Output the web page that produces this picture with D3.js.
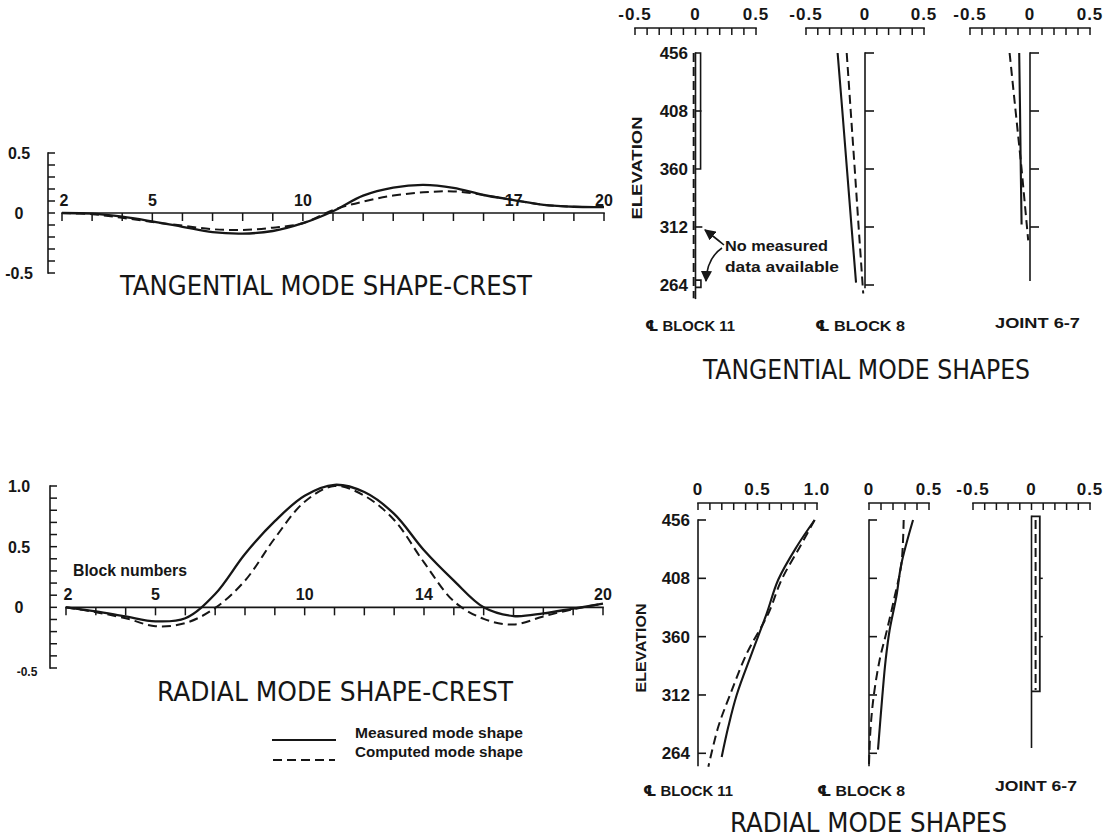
<!DOCTYPE html>
<html><head><meta charset="utf-8">
<script src="https://cdn.jsdelivr.net/npm/d3@7/dist/d3.min.js"></script>
<style>
html,body{margin:0;padding:0;background:#fff;}
.num{font-family:'Liberation Sans',Arial,'DejaVu Sans',sans-serif;font-weight:bold;fill:#161616;}
.ttl{font-family:'Liberation Sans Narrow','DejaVu Sans Condensed','Liberation Sans',sans-serif;fill:#161616;}
</style></head><body>
<svg id="chart" width="1105" height="840"></svg>
<script>
// ---------------- DATA ----------------
const blocks = [2,3,4,5,6,7,8,9,10,11,12,13,14,15,16,17,18,19,20];
// Tangential mode shape - crest
const tanMeasured = [0.0,-0.005,-0.03,-0.07,-0.115,-0.16,-0.172,-0.15,-0.085,0.015,0.145,0.212,0.235,0.21,0.15,0.108,0.068,0.052,0.05];
const tanComputed = [0.0,-0.01,-0.04,-0.075,-0.105,-0.135,-0.142,-0.122,-0.085,0.025,0.095,0.145,0.172,0.18,0.15,0.108,0.068,0.052,0.05];
// Radial mode shape - crest
const radMeasured = [0.0,-0.033,-0.075,-0.115,-0.09,0.11,0.44,0.71,0.92,1.01,0.95,0.77,0.47,0.22,0.0,-0.072,-0.05,-0.01,0.03];
const radComputed = [0.0,-0.04,-0.09,-0.155,-0.13,-0.005,0.22,0.57,0.87,1.0,0.92,0.72,0.37,0.05,-0.095,-0.142,-0.075,-0.015,0.03];
const tanCrestXLabels = [2,5,10,17,20];
const radCrestXLabels = [2,5,10,14,20];
const tanCrestYLabels = [{v:0.5,t:'0.5'},{v:0,t:'0'},{v:-0.5,t:'-0.5'}];
const radCrestYLabels = [{v:1.0,t:'1.0'},{v:0.5,t:'0.5'},{v:0,t:'0'}];

// Elevation profiles
const elevTicks = [456,408,360,312,264];
// tangential
const tB11MeasElev = [456,456,360,360];
const tB11MeasVal  = [0,0.042,0.042,0];
const tB11CompElev = [456,253];
const tB11CompVal  = [-0.015,-0.015];
const tB8MeasElev = [456,408,360,312,266];
const tB8MeasVal  = [-0.232,-0.192,-0.153,-0.114,-0.076];
const tB8CompElev = [456,408,360,312,257];
const tB8CompVal  = [-0.155,-0.121,-0.087,-0.054,-0.015];
const tJMeasElev = [456,408,360,314];
const tJMeasVal  = [-0.09,-0.083,-0.077,-0.07];
const tJCompElev = [456,408,360,301];
const tJCompVal  = [-0.17,-0.12,-0.07,-0.015];
// radial
const rB11MeasElev = [456,434,407,379,346,312,286,261];
const rB11MeasVal  = [0.98,0.829,0.675,0.577,0.451,0.325,0.255,0.199];
const rB11CompElev = [456,434,407,379,346,312,286,253];
const rB11CompVal  = [0.98,0.857,0.703,0.591,0.409,0.269,0.171,0.087];
const rB8MeasElev = [456,420,393,365.5,341,311,267];
const rB8MeasVal  = [0.367,0.27,0.228,0.172,0.139,0.111,0.075];
const rB8CompElev = [456,420,393,365.5,341,311,283,255];
const rB8CompVal  = [0.289,0.27,0.214,0.15,0.089,0.039,0.012,0.0];
const rJMeasElev = [459,459,315,315];
const rJMeasVal  = [0,0.071,0.071,0];
const rJCompElev = [456,316];
const rJCompVal  = [0.035,0.035];

// ---------------- DRAWING ----------------
const INK = '#161616';
const svg = d3.select('#chart');
svg.append('rect').attr('width',1105).attr('height',840).attr('fill','#fff');

function txt(g, s, x, y, o={}) {
  const t = g.append('text').attr('x',x).attr('y',y).text(s)
    .attr('class', o.cls||'num')
    .attr('font-size', o.size||16)
    .attr('text-anchor', o.anchor||'start');
  if (o.len) t.attr('textLength', o.len).attr('lengthAdjust','spacingAndGlyphs');
  if (o.ls) t.attr('letter-spacing', o.ls);
  if (o.rotate) t.attr('transform', `rotate(${o.rotate},${x},${y})`);
  return t;
}
function ln(g,x1,y1,x2,y2,w=1.6){
  return g.append('line').attr('x1',x1).attr('y1',y1).attr('x2',x2).attr('y2',y2)
    .attr('stroke',INK).attr('stroke-width',w).attr('stroke-linecap','square');
}

function crestChart(o){
  const g = svg.append('g');
  const [ymin,ymax] = o.y.domain();
  ln(g,o.ax,o.y(ymax),o.ax,o.y(ymin));
  const minor = d3.range(Math.round(ymin*10), Math.round(ymax*10)+1).map(d=>d/10);
  g.selectAll(null).data(minor).join('line')
    .attr('x1',o.ax).attr('x2',o.ax+7).attr('y1',d=>o.y(d)).attr('y2',d=>o.y(d))
    .attr('stroke',INK).attr('stroke-width',1.5);
  o.yLabels.forEach(d=>txt(g,d.t,19,o.y(d.v)+6,{anchor:'middle',size:16}));
  if (o.smallNeg) txt(g,'-0.5',27,o.y(-0.5)+8,{anchor:'middle',size:12});
  ln(g,o.x(2),o.y(0),o.x(20),o.y(0));
  g.selectAll(null).data(blocks).join('line')
    .attr('x1',d=>o.x(d)).attr('x2',d=>o.x(d)).attr('y1',o.y(0)).attr('y2',o.y(0)+8)
    .attr('stroke',INK).attr('stroke-width',1.5);
  o.xLabels.forEach(b=>txt(g,String(b),o.x(b)+(b===2?2:0),o.y(0)-7,{anchor:'middle',size:16}));
  const line = d3.line().x((d,i)=>o.x(blocks[i])).y(d=>o.y(d)).curve(d3.curveCatmullRom.alpha(0.5));
  g.append('path').attr('d',line(o.computed)).attr('fill','none').attr('stroke',INK)
    .attr('stroke-width',2).attr('stroke-dasharray','9,5');
  g.append('path').attr('d',line(o.measured)).attr('fill','none').attr('stroke',INK)
    .attr('stroke-width',2.3);
  txt(g,o.title,o.tx0,o.ty,{cls:'ttl',size:26,len:o.tx1-o.tx0});
  return g;
}

// Top-left: tangential crest
const xTC = d3.scaleLinear().domain([2,20]).range([62,604]);
const yTC = d3.scaleLinear().domain([-0.5,0.5]).range([273,153]);
crestChart({x:xTC,y:yTC,ax:48,yLabels:tanCrestYLabels,xLabels:tanCrestXLabels,
  measured:tanMeasured,computed:tanComputed,title:'TANGENTIAL MODE SHAPE-CREST',tx0:120,tx1:532,ty:295});

// Bottom-left: radial crest
const xRC = d3.scaleLinear().domain([2,20]).range([66,603]);
const yRC = d3.scaleLinear().domain([-0.5,1.0]).range([668,486]);
const gR = crestChart({x:xRC,y:yRC,ax:50,yLabels:radCrestYLabels,xLabels:radCrestXLabels,smallNeg:true,
  measured:radMeasured,computed:radComputed,title:'RADIAL MODE SHAPE-CREST',tx0:157,tx1:513,ty:701});
txt(gR,'Block numbers',73,576,{size:16,len:114});

// legend
const lg = svg.append('g');
ln(lg,273,740,335,740,2);
lg.append('line').attr('x1',273).attr('x2',335).attr('y1',760).attr('y2',760)
  .attr('stroke',INK).attr('stroke-width',2).attr('stroke-dasharray','9,5');
txt(lg,'Measured mode shape',355,738,{size:14,len:168});
txt(lg,'Computed mode shape',355,757,{size:14,len:168});

// profile panels
function profile(o){
  const g = svg.append('g');
  const [a,b] = o.x.domain();
  ln(g,o.x(a),o.axisY,o.x(b),o.axisY);
  const tk = d3.range(Math.round(a*10),Math.round(b*10)+1).map(d=>d/10);
  g.selectAll(null).data(tk).join('line')
    .attr('x1',d=>o.x(d)).attr('x2',d=>o.x(d)).attr('y1',o.axisY).attr('y2',o.axisY+7)
    .attr('stroke',INK).attr('stroke-width',1.5);
  o.topLabels.forEach(d=>txt(g,d.t,o.x(d.v),o.axisY-8,{anchor:'middle',size:17,ls:1}));
  ln(g,o.x(0),o.y(o.vTop),o.x(0),o.y(o.vBot));
  g.selectAll(null).data(o.vTicks).join('line')
    .attr('x1',o.x(0)).attr('x2',o.x(0)+o.tickLen).attr('y1',d=>o.y(d)).attr('y2',d=>o.y(d))
    .attr('stroke',INK).attr('stroke-width',1.6);
  if (o.elevLabels) elevTicks.forEach(e=>txt(g,String(e),o.labelX,o.y(e)+6,{anchor:'end',size:17}));
  const mk = (E,V)=>E.map((e,i)=>[o.x(V[i]),o.y(e)]);
  const L = o.smooth ? d3.line().curve(d3.curveCatmullRom.alpha(0.5)) : d3.line();
  g.append('path').attr('d',L(mk(o.compE,o.compV))).attr('fill','none').attr('stroke',INK)
    .attr('stroke-width',2).attr('stroke-dasharray','9,5');
  g.append('path').attr('d',L(mk(o.measE,o.measV))).attr('fill','none').attr('stroke',INK)
    .attr('stroke-width',o.measW||2.1);
  txt(g,o.label,o.lx0,o.ly,{size:15,len:o.lx1-o.lx0});
  return g;
}

const topLab = [{v:-0.5,t:'-0.5'},{v:0,t:'0'},{v:0.5,t:'0.5'}];
const yT = d3.scaleLinear().domain([264,456]).range([285,53]);
const xT1 = d3.scaleLinear().domain([-0.5,0.5]).range([635,756]);
const xT2 = d3.scaleLinear().domain([-0.5,0.5]).range([806,924]);
const xT3 = d3.scaleLinear().domain([-0.5,0.5]).range([970,1090]);

const p1 = profile({x:xT1,y:yT,axisY:28,topLabels:topLab,vTop:456,vBot:253,vTicks:[408],tickLen:6,
  elevLabels:true,labelX:688,compE:tB11CompElev,compV:tB11CompVal,measE:tB11MeasElev,measV:tB11MeasVal,measW:1.6,
  label:'\u2104 BLOCK 11',lx0:645,lx1:735,ly:331});
ln(p1,xT1(0),yT(312),xT1(0.05),yT(312),1.6);
p1.append('path').attr('d',`M${xT1(0)},${yT(268)}H${xT1(0.045)}V${yT(262)}H${xT1(0)}`)
  .attr('fill','none').attr('stroke',INK).attr('stroke-width',1.6);
profile({x:xT2,y:yT,axisY:28,topLabels:topLab,vTop:456,vBot:262,vTicks:elevTicks,tickLen:9,
  compE:tB8CompElev,compV:tB8CompVal,measE:tB8MeasElev,measV:tB8MeasVal,
  label:'\u2104 BLOCK 8',lx0:815,lx1:905,ly:331});
profile({x:xT3,y:yT,axisY:28,topLabels:topLab,vTop:456,vBot:268,vTicks:[456,408,360,312],tickLen:9,
  compE:tJCompElev,compV:tJCompVal,measE:tJMeasElev,measV:tJMeasVal,
  label:'JOINT 6-7',lx0:995,lx1:1080,ly:328});
txt(svg,'ELEVATION',642,168,{size:15,anchor:'middle',rotate:-90,len:103});
txt(svg,'TANGENTIAL MODE SHAPES',703,379,{cls:'ttl',size:26,len:327});

// annotation
const defs = svg.append('defs');
defs.append('marker').attr('id','ah').attr('viewBox','0 0 10 10').attr('refX',9).attr('refY',5)
  .attr('markerWidth',7).attr('markerHeight',7).attr('orient','auto-start-reverse')
  .append('path').attr('d','M0,0L10,5L0,10z').attr('fill',INK);
const an = svg.append('g');
an.append('path').attr('d','M724,245 Q713,236 705,230').attr('fill','none').attr('stroke',INK)
  .attr('stroke-width',1.6).attr('marker-end','url(#ah)');
an.append('path').attr('d','M722,248 Q707,258 706,281').attr('fill','none').attr('stroke',INK)
  .attr('stroke-width',1.6).attr('marker-end','url(#ah)');
txt(an,'No measured',725,251,{size:15,len:103});
txt(an,'data available',725,272,{size:15,len:114});

// bottom-right radial profiles
const yB = d3.scaleLinear().domain([264,456]).range([753.3,520]);
const xB1 = d3.scaleLinear().domain([0,1]).range([698,817]);
const xB2 = d3.scaleLinear().domain([0,0.5]).range([869,929]);
const xB3 = d3.scaleLinear().domain([-0.5,0.5]).range([973,1090]);
profile({x:xB1,y:yB,axisY:503,topLabels:[{v:0,t:'0'},{v:0.5,t:'0.5'},{v:1,t:'1.0'}],vTop:456,vBot:254,
  vTicks:elevTicks,tickLen:8,elevLabels:true,labelX:690,smooth:true,
  compE:rB11CompElev,compV:rB11CompVal,measE:rB11MeasElev,measV:rB11MeasVal,
  label:'\u2104 BLOCK 11',lx0:643,lx1:733,ly:796});
profile({x:xB2,y:yB,axisY:503,topLabels:[{v:0,t:'0'},{v:0.5,t:'0.5'}],vTop:456,vBot:254,
  vTicks:elevTicks,tickLen:8,smooth:true,
  compE:rB8CompElev,compV:rB8CompVal,measE:rB8MeasElev,measV:rB8MeasVal,
  label:'\u2104 BLOCK 8',lx0:817,lx1:905,ly:796});
const p6 = profile({x:xB3,y:yB,axisY:503,topLabels:topLab,vTop:459,vBot:269,vTicks:[],tickLen:0,
  compE:rJCompElev,compV:rJCompVal,measE:rJMeasElev,measV:rJMeasVal,measW:1.8,
  label:'JOINT 6-7',lx0:995,lx1:1077,ly:791});
[408,360].forEach(e=>ln(p6,xB3(0.071),yB(e),xB3(0.09),yB(e),1.5));
txt(svg,'ELEVATION',646,648,{size:14,anchor:'middle',rotate:-90,len:89});
txt(svg,'RADIAL MODE SHAPES',730,832,{cls:'ttl',size:26,len:277});
</script>
</body></html>
